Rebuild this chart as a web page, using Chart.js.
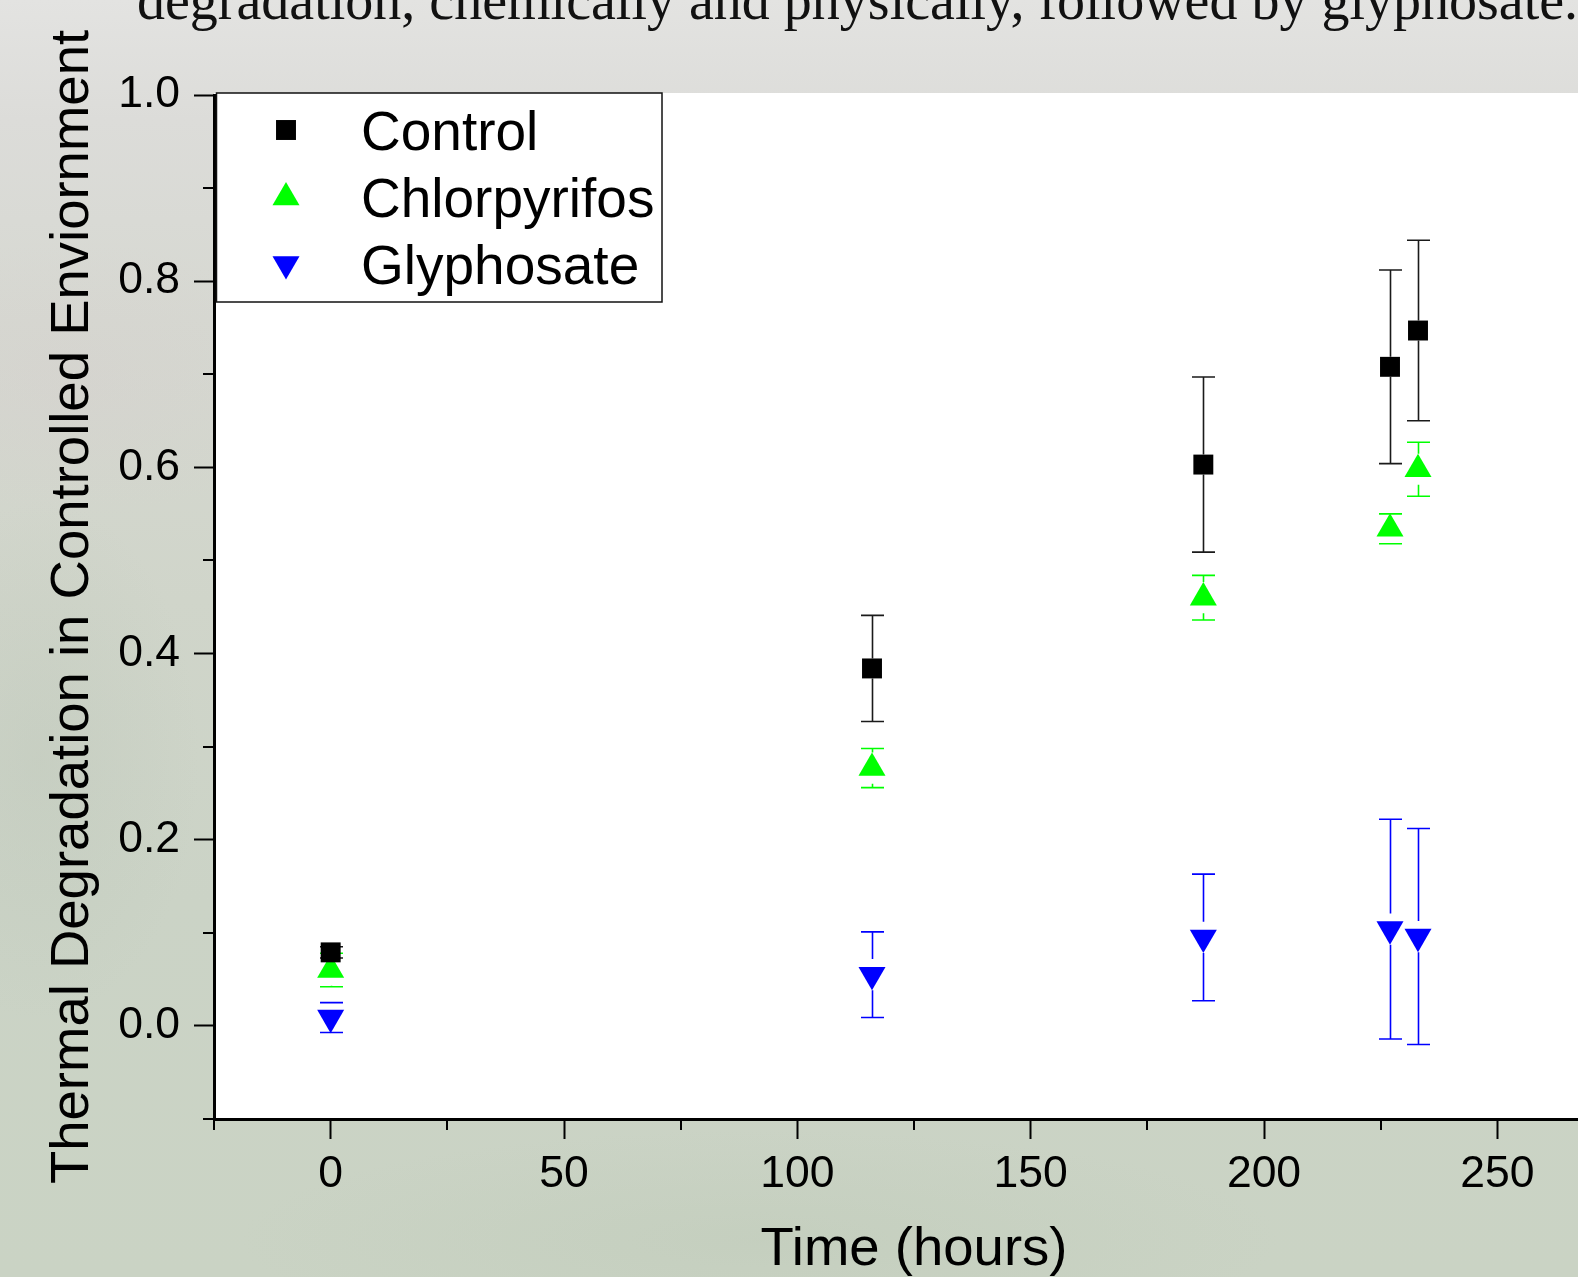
<!DOCTYPE html>
<html>
<head>
<meta charset="utf-8">
<title>Thermal Degradation in Controlled Enviornment</title>
<script src="https://cdn.jsdelivr.net/npm/chart.js@4.4.1/dist/chart.umd.min.js"></script>
<style>
  html, body { margin: 0; padding: 0; width: 1578px; height: 1277px; overflow: hidden; }
  body {
    position: relative;
    background:
      radial-gradient(ellipse 240px 140px at 70px 380px, rgba(214, 206, 206, 0.35), rgba(214, 206, 206, 0)),
      radial-gradient(ellipse 160px 260px at 40px 760px, rgba(184, 194, 180, 0.3), rgba(184, 194, 180, 0)),
      radial-gradient(ellipse 520px 110px at 760px 1240px, rgba(190, 202, 184, 0.45), rgba(190, 202, 184, 0)),
      linear-gradient(to bottom, #e3e3e1 0px, #dcdcd9 120px, #d6d8d1 320px, #d0d5ca 600px, #cbd3c6 900px, #cad3c4 1277px);
  }
  #caption {
    position: absolute; left: 137px; top: -28px;
    font-family: 'Liberation Serif', 'Times New Roman', serif; font-size: 56px; line-height: 1;
    white-space: nowrap; color: #111;
  }
  #wrap { position: absolute; left: 0; top: 0; width: 1640px; height: 1330px; }
</style>
</head>
<body>
<div id="wrap"><canvas id="chart" width="1640" height="1330"></canvas></div>
<div id="caption">degradation, chemically and physically, followed by glyphosate.</div>
<script>
// sampling times (hours)
const timeHours = [0, 116, 187, 227, 233];

// mean degradation and +/- error for each treatment
const controlMean = [0.079, 0.384, 0.603, 0.708, 0.747];
const controlErr  = [0.006, 0.057, 0.094, 0.104, 0.097];
const chlorMean   = [0.060, 0.277, 0.460, 0.534, 0.598];
const chlorErr    = [0.018, 0.021, 0.024, 0.016, 0.029];
const glyphMean   = [0.009, 0.055, 0.095, 0.104, 0.096];
const glyphErr    = [0.016, 0.046, 0.068, 0.118, 0.116];

const seriesNames = ['Control', 'Chlorpyrifos', 'Glyphosate'];

// tick labels shown on the axes (the other ticks are minor)
const xTickLabels = ['0', '50', '100', '150', '200', '250'];
const yTickLabels = ['0.0', '0.2', '0.4', '0.6', '0.8', '1.0'];

const FONT = "'Liberation Sans', Arial, sans-serif";

// marker look per series (stemGap = where the error stem stops at the marker)
const markerStyles = [
  { color: '#000000', barColor: '#1a1a1a', pointStyle: 'rect', radius: 14.1, rotation: 0, stemGap: 10 },
  { color: '#00ff00', barColor: '#00ff00', pointStyle: 'triangle', radius: 15.6, rotation: 0, stemGap: 15.6 },
  { color: '#0000ff', barColor: '#0000ff', pointStyle: 'triangle', radius: 15.6, rotation: 180, stemGap: 15.6 }
];

function toPoints(means) {
  return timeHours.map((t, i) => ({ x: t, y: means[i] }));
}

const means = [controlMean, chlorMean, glyphMean];
const errors = [controlErr, chlorErr, glyphErr];

const datasets = seriesNames.map((name, i) => ({
  label: name,
  data: toPoints(means[i]),
  errors: errors[i],
  backgroundColor: markerStyles[i].color,
  borderWidth: 0,
  pointStyle: markerStyles[i].pointStyle,
  pointRadius: markerStyles[i].radius,
  pointRotation: markerStyles[i].rotation,
  showLine: false
}));

function isLabelledX(v) { return xTickLabels.includes(String(v)); }
function isLabelledY(v) { return yTickLabels.includes(Number(v).toFixed(1)); }

function drawMarker(ctx, style, x, y) {
  ctx.fillStyle = style.color;
  Chart.helpers.drawPoint(ctx, {
    pointStyle: style.pointStyle, radius: style.radius, rotation: style.rotation, borderWidth: 0
  }, x, y);
}

// error bars go under the markers
const errorBarPlugin = {
  id: 'errorBars',
  beforeDatasetsDraw(chart) {
    const { ctx } = chart;
    const xs = chart.scales.x, ys = chart.scales.y;
    ctx.save();
    chart.data.datasets.forEach((ds, di) => {
      const style = markerStyles[di];
      ctx.strokeStyle = style.barColor;
      ctx.lineWidth = 1.6;
      ds.data.forEach((pt, i) => {
        const err = ds.errors[i];
        const px = Math.round(xs.getPixelForValue(pt.x)) + 0.5;
        const py = ys.getPixelForValue(pt.y);
        const pTop = ys.getPixelForValue(pt.y + err);
        const pBot = ys.getPixelForValue(pt.y - err);
        ctx.beginPath();
        ctx.moveTo(px - 11.5, pTop); ctx.lineTo(px + 11.5, pTop);
        ctx.moveTo(px - 11.5, pBot); ctx.lineTo(px + 11.5, pBot);
        if (py - style.stemGap > pTop) { ctx.moveTo(px, pTop); ctx.lineTo(px, py - style.stemGap); }
        if (py + style.stemGap < pBot) { ctx.moveTo(px, py + style.stemGap); ctx.lineTo(px, pBot); }
        ctx.stroke();
      });
    });
    ctx.restore();
  }
};

// white plot area, short minor ticks and the boxed legend
const frameExtras = {
  id: 'frameExtras',
  beforeDraw(chart) {
    const { ctx, chartArea: a } = chart;
    ctx.save();
    ctx.fillStyle = '#ffffff';
    ctx.fillRect(a.left, a.top - 2, a.right - a.left, a.bottom - a.top + 2);
    ctx.restore();
  },
  afterDraw(chart) {
    const { ctx, chartArea: a } = chart;
    const xs = chart.scales.x, ys = chart.scales.y;
    ctx.save();
    ctx.strokeStyle = '#000';
    ctx.lineWidth = 2;
    ctx.beginPath();
    xs.ticks.forEach(t => {
      if (isLabelledX(t.value)) return;
      const px = Math.round(xs.getPixelForValue(t.value));
      ctx.moveTo(px, a.bottom); ctx.lineTo(px, a.bottom + 11);
    });
    ys.ticks.forEach(t => {
      if (isLabelledY(t.value)) return;
      const py = Math.round(ys.getPixelForValue(t.value));
      ctx.moveTo(a.left, py); ctx.lineTo(a.left - 11, py);
    });
    ctx.stroke();

    // legend box
    const box = { left: 216.5, top: 93, right: 662, bottom: 302 };
    ctx.fillStyle = '#ffffff';
    ctx.fillRect(box.left, box.top, box.right - box.left, box.bottom - box.top);
    ctx.lineWidth = 1.5;
    ctx.strokeStyle = '#111';
    ctx.strokeRect(box.left, box.top, box.right - box.left, box.bottom - box.top);

    const rowBaselines = [149.5, 217, 283.5];
    ctx.font = '55px ' + FONT;
    ctx.textBaseline = 'alphabetic';
    ctx.textAlign = 'left';
    chart.data.datasets.forEach((ds, i) => {
      const base = rowBaselines[i];
      drawMarker(ctx, markerStyles[i], 286, base - 19.5);
      ctx.fillStyle = '#000';
      ctx.fillText(ds.label, 361, base);
    });
    ctx.restore();
  }
};

new Chart(document.getElementById('chart'), {
  type: 'scatter',
  data: { datasets },
  plugins: [errorBarPlugin, frameExtras],
  options: {
    responsive: false,
    animation: false,
    events: [],
    layout: { padding: { top: 95, right: 26, bottom: 0, left: 0 } },
    plugins: { legend: { display: false }, tooltip: { enabled: false } },
    scales: {
      x: {
        type: 'linear',
        min: -25, max: 275,
        afterFit: s => { s.height = 211; },
        ticks: {
          stepSize: 25, autoSkip: false, maxRotation: 0, padding: 9, color: '#000',
          font: { family: FONT, size: 44.5 },
          callback: v => isLabelledX(v) ? String(v) : ''
        },
        grid: {
          drawOnChartArea: false, drawTicks: true, tickLength: 20, tickWidth: 2,
          tickColor: c => (c.tick && isLabelledX(c.tick.value)) ? '#000' : 'rgba(0,0,0,0)'
        },
        border: { display: true, color: '#000', width: 3 },
        title: {
          display: true, text: 'Time (hours)', color: '#000',
          font: { family: FONT, size: 54.5 }, padding: { top: 0, bottom: 47 }
        }
      },
      y: {
        type: 'linear',
        min: -0.1, max: 1.0,
        afterFit: s => { s.width = 214; },
        ticks: {
          stepSize: 0.1, autoSkip: false, padding: 14, color: '#000',
          font: { family: FONT, size: 44.5 },
          callback: v => isLabelledY(v) ? Number(v).toFixed(1) : ''
        },
        grid: {
          drawOnChartArea: false, drawTicks: true, tickLength: 20, tickWidth: 2,
          tickColor: c => (c.tick && isLabelledY(c.tick.value)) ? '#000' : 'rgba(0,0,0,0)'
        },
        border: { display: true, color: '#000', width: 3 },
        title: {
          display: true, text: 'Thermal Degradation in Controlled Enviornment', color: '#000',
          font: { family: FONT, size: 54.5 }, padding: { top: 40, bottom: 0 }
        }
      }
    }
  }
});
</script>
</body>
</html>
